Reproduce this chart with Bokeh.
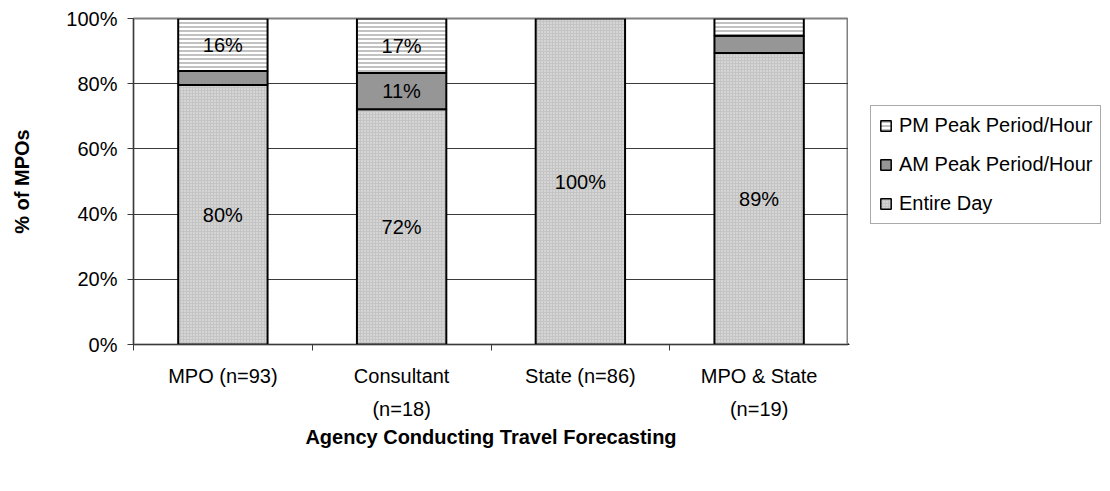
from bokeh.plotting import figure
from bokeh.layouts import row
from bokeh.models import Range1d, FixedTicker, Legend, LegendItem, ColumnDataSource
from bokeh.embed import file_html
from bokeh.resources import INLINE
from bokeh.core.properties import value

# ---- data ----
categories = ["MPO (n=93)", "Consultant\n(n=18)", "State (n=86)", "MPO & State\n(n=19)"]
entire_day = [79.6, 72.2, 100.0, 89.4]
am_peak = [4.3, 11.1, 0.0, 5.3]
pm_peak = [16.1, 16.7, 0.0, 5.3]
series_names = ["Entire Day", "AM Peak Period/Hour", "PM Peak Period/Hour"]
y_ticks = [0, 20, 40, 60, 80, 100]
y_tick_labels = ["0%", "20%", "40%", "60%", "80%", "100%"]
x_title = "Agency Conducting Travel Forecasting"
y_title = "% of MPOs"

FONT = "Liberation Sans"
H = 488

p = figure(width=848, height=H, output_backend="svg", toolbar_location=None,
           x_range=Range1d(0, len(categories)), y_range=Range1d(0, 100),
           min_border_left=133, min_border_top=18, min_border_right=0,
           min_border_bottom=H - 344)

p.outline_line_color = "#808080"
p.outline_line_width = 2
p.xgrid.grid_line_color = None
p.ygrid.grid_line_color = "#3a3a3a"
p.ygrid.grid_line_width = 1
p.ygrid.ticker = FixedTicker(ticks=y_ticks)

centers = [i + 0.5 for i in range(len(categories))]

styles = [
    dict(fill_color="#c4c4c4", hatch_pattern="dot", hatch_color="#ffffff",
         hatch_scale=3, hatch_weight=1, hatch_alpha=0.7),
    dict(fill_color="#969696"),
    dict(fill_color="#ffffff", hatch_pattern="horizontal_line", hatch_color="#a0a0a0",
         hatch_scale=4, hatch_weight=1.3),
]
series = [entire_day, am_peak, pm_peak]

sources = []
label_x, label_y, label_t = [], [], []
bottoms = [0.0] * len(categories)
for vals, st in zip(series, styles):
    xs, bs, ts = [], [], []
    for i, v in enumerate(vals):
        b = bottoms[i]
        if v > 0:
            xs.append(centers[i]); bs.append(b); ts.append(b + v)
            if v >= 10:
                label_x.append(centers[i]); label_y.append(b + v / 2)
                label_t.append(f"{int(round(v))}%")
        bottoms[i] = b + v
    src = ColumnDataSource(dict(x=xs, bottom=bs, top=ts))
    sources.append(src)
    p.vbar(x="x", bottom="bottom", top="top", width=0.5, source=src,
           line_color="black", line_width=2, **st)

p.text(x=label_x, y=label_y, text=label_t, text_align="center",
       text_baseline="middle", text_font=value(FONT), text_font_size="20px",
       text_color="#000000")

# x axis
xa = p.xaxis[0]
xa.ticker = FixedTicker(ticks=centers, minor_ticks=[0, 1, 2, 3, 4])
xa.major_label_overrides = {c: lab for c, lab in zip(centers, categories)}
xa.major_tick_out = 0
xa.major_tick_in = 0
xa.minor_tick_out = 6
xa.minor_tick_in = 0
xa.minor_tick_line_color = "#3a3a3a"
xa.axis_line_color = "#3a3a3a"
xa.major_label_text_font = FONT
xa.major_label_text_font_size = "20px"
xa.major_label_text_color = "#000000"
xa.major_label_text_line_height = 1.5
xa.major_label_standoff = 14
xa.axis_label = x_title
xa.axis_label_text_font = FONT
xa.axis_label_text_font_style = "bold"
xa.axis_label_text_font_size = "20px"
xa.axis_label_text_color = "#000000"
xa.axis_label_standoff = 3

# y axis
ya = p.yaxis[0]
ya.ticker = FixedTicker(ticks=y_ticks)
ya.major_label_overrides = {t: lab for t, lab in zip(y_ticks, y_tick_labels)}
ya.major_tick_out = 6
ya.major_tick_in = 0
ya.minor_tick_out = 0
ya.minor_tick_in = 0
ya.axis_line_color = "#3a3a3a"
ya.major_tick_line_color = "#3a3a3a"
ya.major_label_text_font = FONT
ya.major_label_text_font_size = "20px"
ya.major_label_text_color = "#000000"
ya.major_label_standoff = 10
ya.axis_label = y_title
ya.axis_label_text_font = FONT
ya.axis_label_text_font_style = "bold"
ya.axis_label_text_font_size = "20px"
ya.axis_label_text_color = "#000000"
ya.axis_label_standoff = 30

# legend panel (separate figure to the right of the plot; its ranges keep the bars off-view)
pl = figure(width=258, height=H, output_backend="svg", toolbar_location=None,
            x_axis_location=None, y_axis_location=None,
            x_range=Range1d(100, 101), y_range=Range1d(100, 101),
            min_border=0, outline_line_color=None)
pl.grid.grid_line_color = None
leg_renderers = []
for src, st in zip(sources, styles):
    leg_renderers.append(pl.vbar(x="x", bottom="bottom", top="top", width=0.5,
                                 source=src, line_color="black", line_width=1.5, **st))

legend = Legend(items=[LegendItem(label=series_names[2], renderers=[leg_renderers[2]]),
                       LegendItem(label=series_names[1], renderers=[leg_renderers[1]]),
                       LegendItem(label=series_names[0], renderers=[leg_renderers[0]])],
                location=(22, 120))
legend.label_text_font = FONT
legend.label_text_font_size = "20px"
legend.label_text_color = "#000000"
legend.glyph_width = 13
legend.glyph_height = 13
legend.label_height = 22
legend.label_standoff = 7
legend.spacing = 16
legend.padding = 8
legend.margin = 0
legend.border_line_color = "#555555"
legend.border_line_width = 1
pl.add_layout(legend, "center")

layout = row(p, pl, spacing=0)
open("out.html", "w").write(file_html(layout, INLINE))
